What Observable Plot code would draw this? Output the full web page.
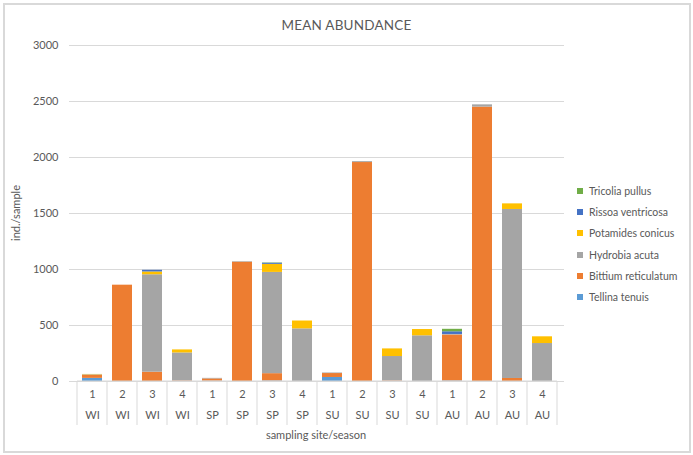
<!DOCTYPE html>
<html>
<head>
<meta charset="utf-8">
<script src="https://cdn.jsdelivr.net/npm/d3@7"></script>
<script src="https://cdn.jsdelivr.net/npm/@observablehq/plot@0.6"></script>
<style>
  html, body { margin: 0; padding: 0; background: #fff; }
  #wrap { position: relative; width: 693px; height: 455px; font-family: Lato, "Open Sans", sans-serif; color: #595959; overflow: hidden; }
  #wrap svg { position: absolute; left: 0; top: 0; }
  #border { position: absolute; left: 3px; top: 3px; width: 684px; height: 446px; border: 2px solid #d9d9d9; box-sizing: content-box; pointer-events: none; }
  #title { position: absolute; left: 0; width: 693px; top: 17px; text-align: center; font-size: 13.5px; letter-spacing: 0.2px; }
  #ytitle { position: absolute; left: 15px; top: 213px; transform: translate(-50%, -50%) rotate(-90deg); font-size: 11px; white-space: nowrap; }
  #xtitle { position: absolute; left: 316px; top: 434px; transform: translate(-50%, -50%); font-size: 11px; white-space: nowrap; }
  #legend { position: absolute; left: 577px; top: 180px; font-size: 10.5px; }
  .li { height: 21.3px; display: flex; align-items: center; white-space: nowrap; }
  .sw { width: 6px; height: 6px; margin-right: 6px; }
</style>
</head>
<body>
<div id="wrap">
  <div id="title">MEAN ABUNDANCE</div>
  <div id="ytitle">ind./sample</div>
  <div id="xtitle">sampling site/season</div>
  <div id="legend"></div>
  <div id="border"></div>
</div>
<script>
const sites   = [1, 2, 3, 4, 1, 2, 3, 4, 1, 2, 3, 4, 1, 2, 3, 4];
const seasons = ["WI","WI","WI","WI","SP","SP","SP","SP","SU","SU","SU","SU","AU","AU","AU","AU"];

// stacked bottom -> top
const species = ["Tellina tenuis", "Bittium reticulatum", "Hydrobia acuta", "Potamides conicus", "Rissoa ventricosa", "Tricolia pullus"];
const colors  = ["#5b9bd5", "#ed7d31", "#a5a5a5", "#ffc000", "#4472c4", "#70ad47"];

const tellina   = [28, 0, 0, 0, 3, 0, 5, 0, 36, 0, 0, 0, 5, 0, 0, 0];
const bittium   = [27, 860, 83, 5, 20, 1065, 65, 0, 35, 1955, 5, 0, 410, 2450, 27, 0];
const hydrobia  = [5, 0, 870, 250, 5, 5, 904, 470, 5, 8, 218, 408, 5, 20, 1509, 339];
const potamides = [3, 0, 25, 27, 0, 0, 72, 70, 0, 0, 68, 56, 0, 0, 50, 60];
const rissoa    = [0, 0, 15, 0, 0, 0, 10, 0, 0, 0, 0, 0, 24, 0, 0, 0];
const tricolia  = [0, 0, 0, 0, 0, 0, 3, 0, 0, 0, 0, 0, 22, 0, 0, 0];

const yTicks = [0, 500, 1000, 1500, 2000, 2500, 3000];

const series = [tellina, bittium, hydrobia, potamides, rissoa, tricolia];
const keys = sites.map((s, i) => seasons[i] + s);
const siteOf = new Map(keys.map((k, i) => [k, sites[i]]));
const seasonOf = new Map(keys.map((k, i) => [k, seasons[i]]));

const data = keys.flatMap((k, i) => series.map((arr, j) => ({key: k, species: species[j], value: arr[i]})));

const plot = Plot.plot({
  width: 693,
  height: 455,
  marginLeft: 69,
  marginRight: 129,
  marginTop: 45,
  marginBottom: 74,
  style: {fontFamily: "Lato, 'Open Sans', sans-serif", fontSize: "11px", color: "#595959", background: "transparent", overflow: "visible"},
  x: {domain: keys, paddingInner: 0.35, paddingOuter: 0.175, label: null},
  y: {domain: [0, 3000], label: null},
  color: {domain: species, range: colors},
  marks: [
    Plot.gridY(yTicks, {stroke: "#d9d9d9", strokeOpacity: 1, strokeWidth: 1}),
    Plot.axisY(yTicks, {tickSize: 0, tickPadding: 11, label: null, fill: "#595959", fontSize: 11, tickFormat: d => String(d)}),
    Plot.barY(data, {x: "key", y: "value", fill: "species", order: species}),
    Plot.axisX({tickSize: 0, tickPadding: 0, tickFormat: () => "", label: null}),
    Plot.text(keys, {x: d => d, text: d => String(siteOf.get(d)), frameAnchor: "bottom", dy: 16, fill: "#595959", fontSize: 11}),
    Plot.text(keys, {x: d => d, text: d => seasonOf.get(d), frameAnchor: "bottom", dy: 37, fill: "#595959", fontSize: 11})
  ]
});

document.getElementById("wrap").insertBefore(plot, document.getElementById("title"));

// category divider lines below the baseline, taken from Plot's own x and y scales
const xs = plot.scale("x");
const ys = plot.scale("y");
const y0 = ys.apply(0);
const step = xs.step !== undefined ? xs.step : (xs.range[1] - xs.range[0]) / keys.length;
const bw = xs.bandwidth;
const bounds = keys.map(k => xs.apply(k) + bw / 2 - step / 2);
bounds.push(xs.apply(keys[keys.length - 1]) + bw / 2 + step / 2);
const svg = d3.select(plot);
svg.append("line").attr("x1", bounds[0]).attr("x2", bounds[bounds.length - 1]).attr("y1", y0).attr("y2", y0).attr("stroke", "#d9d9d9");
svg.selectAll("line.div").data(bounds).join("line").attr("class", "div")
  .attr("x1", d => d).attr("x2", d => d).attr("y1", y0).attr("y2", y0 + 44)
  .attr("stroke", "#d9d9d9").attr("stroke-width", 1);

// legend (top to bottom mirrors the stack)
const legend = d3.select("#legend");
species.slice().reverse().forEach((s) => {
  const row = legend.append("div").attr("class", "li");
  row.append("div").attr("class", "sw").style("background", colors[species.indexOf(s)]);
  row.append("span").text(s);
});
</script>
</body>
</html>
